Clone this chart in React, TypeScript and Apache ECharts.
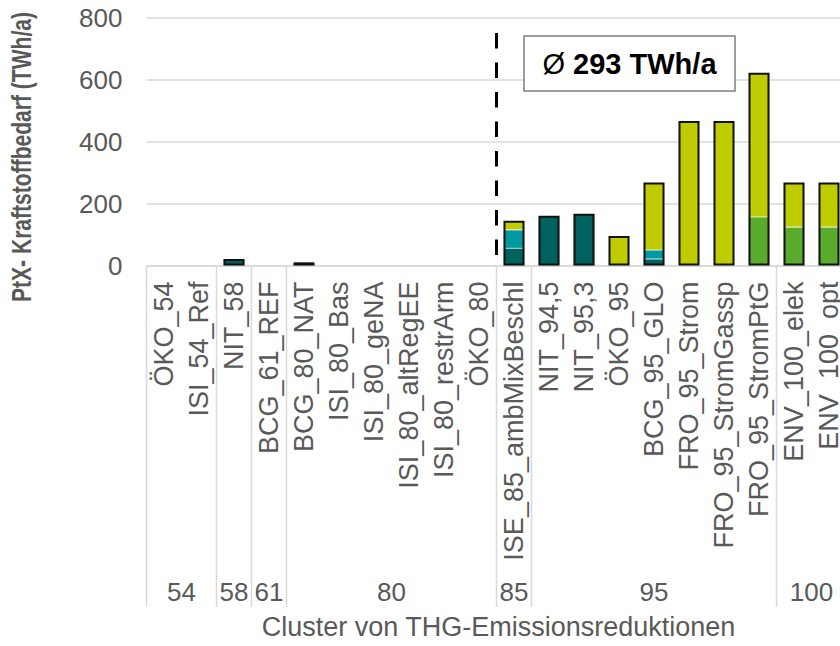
import React, { useEffect, useRef } from "react";
import * as echarts from "echarts";

const categories = [
  "ÖKO_54", "ISI_54_Ref", "NIT_58", "BCG_61_REF", "BCG_80_NAT", "ISI_80_Bas",
  "ISI_80_geNA", "ISI_80_altRegEE", "ISI_80_restrArm", "ÖKO_80",
  "ISE_85_ambMixBeschl", "NIT_94,5", "NIT_95,3", "ÖKO_95", "BCG_95_GLO",
  "FRO_95_Strom", "FRO_95_StromGassp", "FRO_95_StromPtG", "ENV_100_elek", "ENV_100_opt",
];

const clusterLabels = ["54", "58", "61", "80", "85", "95", "100"];
const clusterSizes = [2, 1, 1, 6, 1, 7, 2];

const seriesDarkTeal = [null, null, 21, null, 10, null, null, null, null, null, 56, 161, 167, null, 21, null, null, null, null, null];
const seriesTeal = [null, null, null, null, null, null, null, null, null, null, 59, null, null, null, 29, null, null, null, null, null];
const seriesGreen = [null, null, null, null, null, null, null, null, null, null, null, null, null, null, null, null, null, 157, 124, 124];
const seriesYellow = [null, null, null, null, null, null, null, null, null, null, 30, null, null, 95, 218, 467, 467, 466, 144, 144];

const yTicks = { min: 0, max: 800, interval: 200 };
const averageLabel = "293 TWh/a";
const dividerAfter = "ÖKO_80";

const FONT = "'Liberation Sans', Arial, sans-serif";
const GRAY = "#595959";

export default function App() {
  const ref = useRef<HTMLDivElement>(null);

  useEffect(() => {
    if (!ref.current) return;
    const chart = echarts.init(ref.current, undefined, { renderer: "svg" });

    const totals = categories.map((_, i) => {
      const s = [seriesDarkTeal, seriesTeal, seriesGreen, seriesYellow].reduce(
        (acc, arr) => acc + ((arr[i] as number) || 0), 0);
      return s > 0 ? s : null;
    });

    const segStyle = (color: string) => ({
      color,
      borderColor: "rgba(255,255,255,0.35)",
      borderWidth: 0.6,
    });

    const BW = 21;

    chart.setOption({
      animation: false,
      grid: { left: 146.5, right: -6.5, top: 18, bottom: 380.5, outerBoundsMode: "none" },
      xAxis: {
        type: "category",
        data: categories,
        axisLine: { show: true, lineStyle: { color: "#d9d9d9", width: 1.5 } },
        axisTick: { show: false },
        axisLabel: {
          interval: 0,
          rotate: 90,
          margin: 16,
          fontSize: 27,
          color: GRAY,
          fontFamily: FONT,
        },
      },
      yAxis: {
        type: "value",
        min: yTicks.min,
        max: yTicks.max,
        interval: yTicks.interval,
        axisLine: { show: false },
        axisTick: { show: false },
        splitLine: { lineStyle: { color: "#d9d9d9", width: 1.5 } },
        axisLabel: { fontSize: 26, color: GRAY, fontFamily: FONT, margin: 24 },
      },
      series: [
        { name: "Serie 1", type: "bar", stack: "a", barWidth: BW, data: seriesDarkTeal, itemStyle: segStyle("#00625E") },
        { name: "Serie 2", type: "bar", stack: "a", barWidth: BW, data: seriesTeal, itemStyle: segStyle("#0099A1") },
        { name: "Serie 3", type: "bar", stack: "a", barWidth: BW, data: seriesGreen, itemStyle: segStyle("#5AAB2B") },
        { name: "Serie 4", type: "bar", stack: "a", barWidth: BW, data: seriesYellow, itemStyle: segStyle("#BFCC00") },
        {
          name: "Summe", type: "bar", barWidth: BW, barGap: "-100%", z: 3, data: totals,
          itemStyle: { color: "rgba(0,0,0,0)", borderColor: "#111", borderWidth: 2 },
          silent: true,
        },
      ],
    });

    const px = (i: number) => chart.convertToPixel({ xAxisIndex: 0 }, categories[i]) as number;
    const y0 = chart.convertToPixel({ yAxisIndex: 0 }, 0) as number;
    const band = px(1) - px(0);
    const sepBottom = 607;

    const graphics: any[] = [];
    let start = 0;
    clusterSizes.forEach((size, g) => {
      const left = px(start) - band / 2;
      const right = px(start + size - 1) + band / 2;
      graphics.push({
        type: "line",
        shape: { x1: left, y1: y0, x2: left, y2: sepBottom },
        style: { stroke: "#d9d9d9", lineWidth: 1.5 },
      });
      graphics.push({
        type: "text",
        x: (left + right) / 2,
        y: 592,
        style: {
          text: clusterLabels[g], fontSize: 26, fill: GRAY, fontFamily: FONT,
          align: "center", verticalAlign: "middle",
        },
      });
      start += size;
    });

    const dIdx = categories.indexOf(dividerAfter);
    const dx = (px(dIdx) + px(dIdx + 1)) / 2;
    graphics.push({
      type: "line",
      z: 10,
      shape: { x1: dx, y1: 33, x2: dx, y2: y0 + 2 },
      style: { stroke: "#000", lineWidth: 3, lineDash: [15.5, 14] },
    });

    graphics.push({
      type: "rect",
      z: 10,
      shape: { x: 524, y: 36, width: 211, height: 55 },
      style: { fill: "#fff", stroke: "#7f7f7f", lineWidth: 1.5 },
    });
    graphics.push({
      type: "text",
      z: 11,
      x: 629.5,
      y: 64,
      style: {
        text: "{a|Ø }{b|" + averageLabel + "}",
        align: "center",
        verticalAlign: "middle",
        rich: {
          a: { fontSize: 29, fontFamily: FONT, fill: "#000", fontWeight: "normal" },
          b: { fontSize: 29, fontFamily: FONT, fill: "#000", fontWeight: "bold" },
        },
      },
    });

    graphics.push({
      type: "text",
      x: 22,
      y: 157,
      rotation: Math.PI / 2,
      scaleX: 0.78,
      style: {
        text: "PtX- Kraftstoffbedarf (TWh/a)",
        fontSize: 27, fontWeight: "bold", fill: GRAY, fontFamily: FONT,
        align: "center", verticalAlign: "middle",
      },
    });

    graphics.push({
      type: "text",
      x: 498.5,
      y: 627,
      style: {
        text: "Cluster von THG-Emissionsreduktionen",
        fontSize: 27, fill: GRAY, fontFamily: FONT,
        align: "center", verticalAlign: "middle",
      },
    });

    chart.setOption({ graphic: graphics });

    return () => chart.dispose();
  }, []);

  return (
    <div
      ref={ref}
      style={{ position: "fixed", left: 0, top: 0, width: 840, height: 646, background: "#fff" }}
    />
  );
}
